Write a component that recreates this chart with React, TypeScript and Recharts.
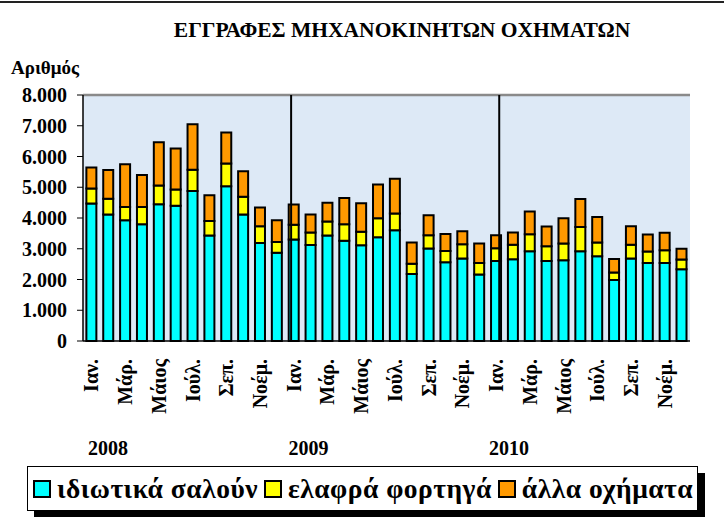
import { BarChart, Bar, XAxis, YAxis, CartesianGrid, ReferenceLine } from 'recharts'

const MONTHS = ['Ιαν.', 'Φεβ.', 'Μάρ.', 'Απρ.', 'Μάιος', 'Ιούν.', 'Ιούλ.', 'Αύγ.', 'Σεπ.', 'Οκτ.', 'Νοέμ.', 'Δεκ.']
const YEARS = ['2008', '2009', '2010']
const Y_TICKS = [0, 1000, 2000, 3000, 4000, 5000, 6000, 7000, 8000]

const SALOONS = [
  4470, 4110, 3930, 3800, 4450, 4400, 4880, 3430, 5030, 4110, 3190, 2870,
  3300, 3120, 3430, 3260, 3110, 3370, 3600, 2180, 3010, 2560, 2680, 2160,
  2600, 2660, 2920, 2600, 2630, 2920, 2760, 1980, 2680, 2540, 2540, 2330,
]
const LIGHT_TRUCKS = [
  490, 520, 430, 560, 610, 530, 690, 470, 740, 580, 540, 350,
  480, 410, 460, 540, 440, 620, 550, 330, 430, 370, 470, 380,
  420, 470, 550, 480, 540, 790, 440, 250, 450, 370, 410, 320,
]
const OTHER = [
  680, 930, 1390, 1040, 1400, 1330, 1480, 840, 1010, 830, 610, 710,
  660, 580, 610, 850, 930, 1100, 1130, 690, 650, 550, 420, 630,
  420, 400, 740, 640, 820, 910, 830, 440, 600, 550, 570, 350,
]

const SERIES = [
  { key: 'saloons', name: 'ιδιωτικά σαλούν', color: '#00FFFF' },
  { key: 'trucks', name: 'ελαφρά φορτηγά', color: '#FFFF00' },
  { key: 'other', name: 'άλλα οχήματα', color: '#FF9900' },
]

const FONT = '"Liberation Serif", "Times New Roman", serif'

const data = SALOONS.map((v, i) => ({
  month: MONTHS[i % 12],
  saloons: v,
  trucks: LIGHT_TRUCKS[i],
  other: OTHER[i],
}))

function fmtThousands(v: number) {
  return String(v).replace(/\B(?=(\d{3})+(?!\d))/g, '.')
}

function MonthTick({ x, y, payload }: any) {
  const ty = y + 18
  return (
    <text x={x} y={ty} transform={`rotate(-90 ${x} ${ty})`} textAnchor="end" dy="0.35em"
      fontFamily={FONT} fontWeight="bold" fontSize={20} fill="#000">
      {payload.value}
    </text>
  )
}

export default function App() {
  return (
    <div style={{ position: 'relative', width: 724, height: 517, background: '#fff', fontFamily: FONT, fontWeight: 'bold', color: '#000' }}>
      <style>{'body{margin:0}'}</style>
      <div style={{ position: 'absolute', left: 0, top: 1, width: 724, height: 2, background: '#222' }} />
      <div style={{ position: 'absolute', left: 102, top: 18, width: 600, textAlign: 'center', fontSize: 21.5, lineHeight: '24px' }}>
        ΕΓΓΡΑΦΕΣ ΜΗΧΑΝΟΚΙΝΗΤΩΝ ΟΧΗΜΑΤΩΝ
      </div>
      <div style={{ position: 'absolute', left: 11, top: 56, fontSize: 19, lineHeight: '24px' }}>Αριθμός</div>

      <BarChart width={724} height={517} data={data} barCategoryGap="20%"
        margin={{ top: 95, right: 34, left: 0, bottom: 96 }}>
        <CartesianGrid fill="#dde9f6" horizontal={false} vertical={false} />
        <XAxis dataKey="month" interval={1} height={80} tick={<MonthTick />}
          tickSize={0} tickMargin={0} axisLine={{ stroke: '#000', strokeWidth: 1.5 }} tickLine={false} />
        <XAxis xAxisId="num" type="number" domain={[0, 36]} hide allowDataOverflow />
        <YAxis width={83} domain={[0, 8000]} ticks={Y_TICKS} interval={0} tickFormatter={fmtThousands}
          tickSize={6} tickMargin={10} axisLine={{ stroke: '#000', strokeWidth: 1.5 }} tickLine={{ stroke: '#000' }}
          tick={{ fontFamily: FONT, fontWeight: 'bold', fontSize: 20, fill: '#000' }} />
        <ReferenceLine y={8000} stroke="#8a8a8a" strokeWidth={2.5} />
        <ReferenceLine xAxisId="num" x={36} stroke="#8a8a8a" strokeWidth={2.5} />
        <ReferenceLine xAxisId="num" x={12} stroke="#000" strokeWidth={2} />
        <ReferenceLine xAxisId="num" x={24} stroke="#000" strokeWidth={2} />
        {SERIES.map((s) => (
          <Bar key={s.key} dataKey={s.key} name={s.name} stackId="a" fill={s.color}
            stroke="#000" strokeWidth={2} isAnimationActive={false} />
        ))}
      </BarChart>

      {YEARS.map((y, i) => (
        <div key={y} style={{ position: 'absolute', left: 88 + i * 200.5, top: 436, fontSize: 20, lineHeight: '24px' }}>{y}</div>
      ))}

      <div style={{
        position: 'absolute', left: 27, top: 466, width: 671, height: 45, boxSizing: 'border-box',
        border: '1.5px solid #000', background: '#fff', boxShadow: '7px 7px 0 #000',
        display: 'flex', alignItems: 'center', paddingLeft: 5, fontSize: 27.5, letterSpacing: 0.5,
        whiteSpace: 'nowrap', overflow: 'hidden',
      }}>
        {SERIES.map((s) => (
          <span key={s.key} style={{ display: 'inline-flex', alignItems: 'center', marginRight: 6 }}>
            <span style={{ display: 'inline-block', width: 14, height: 14, background: s.color, border: '2px solid #000', marginRight: 6 }} />
            {s.name}
          </span>
        ))}
      </div>
    </div>
  )
}
